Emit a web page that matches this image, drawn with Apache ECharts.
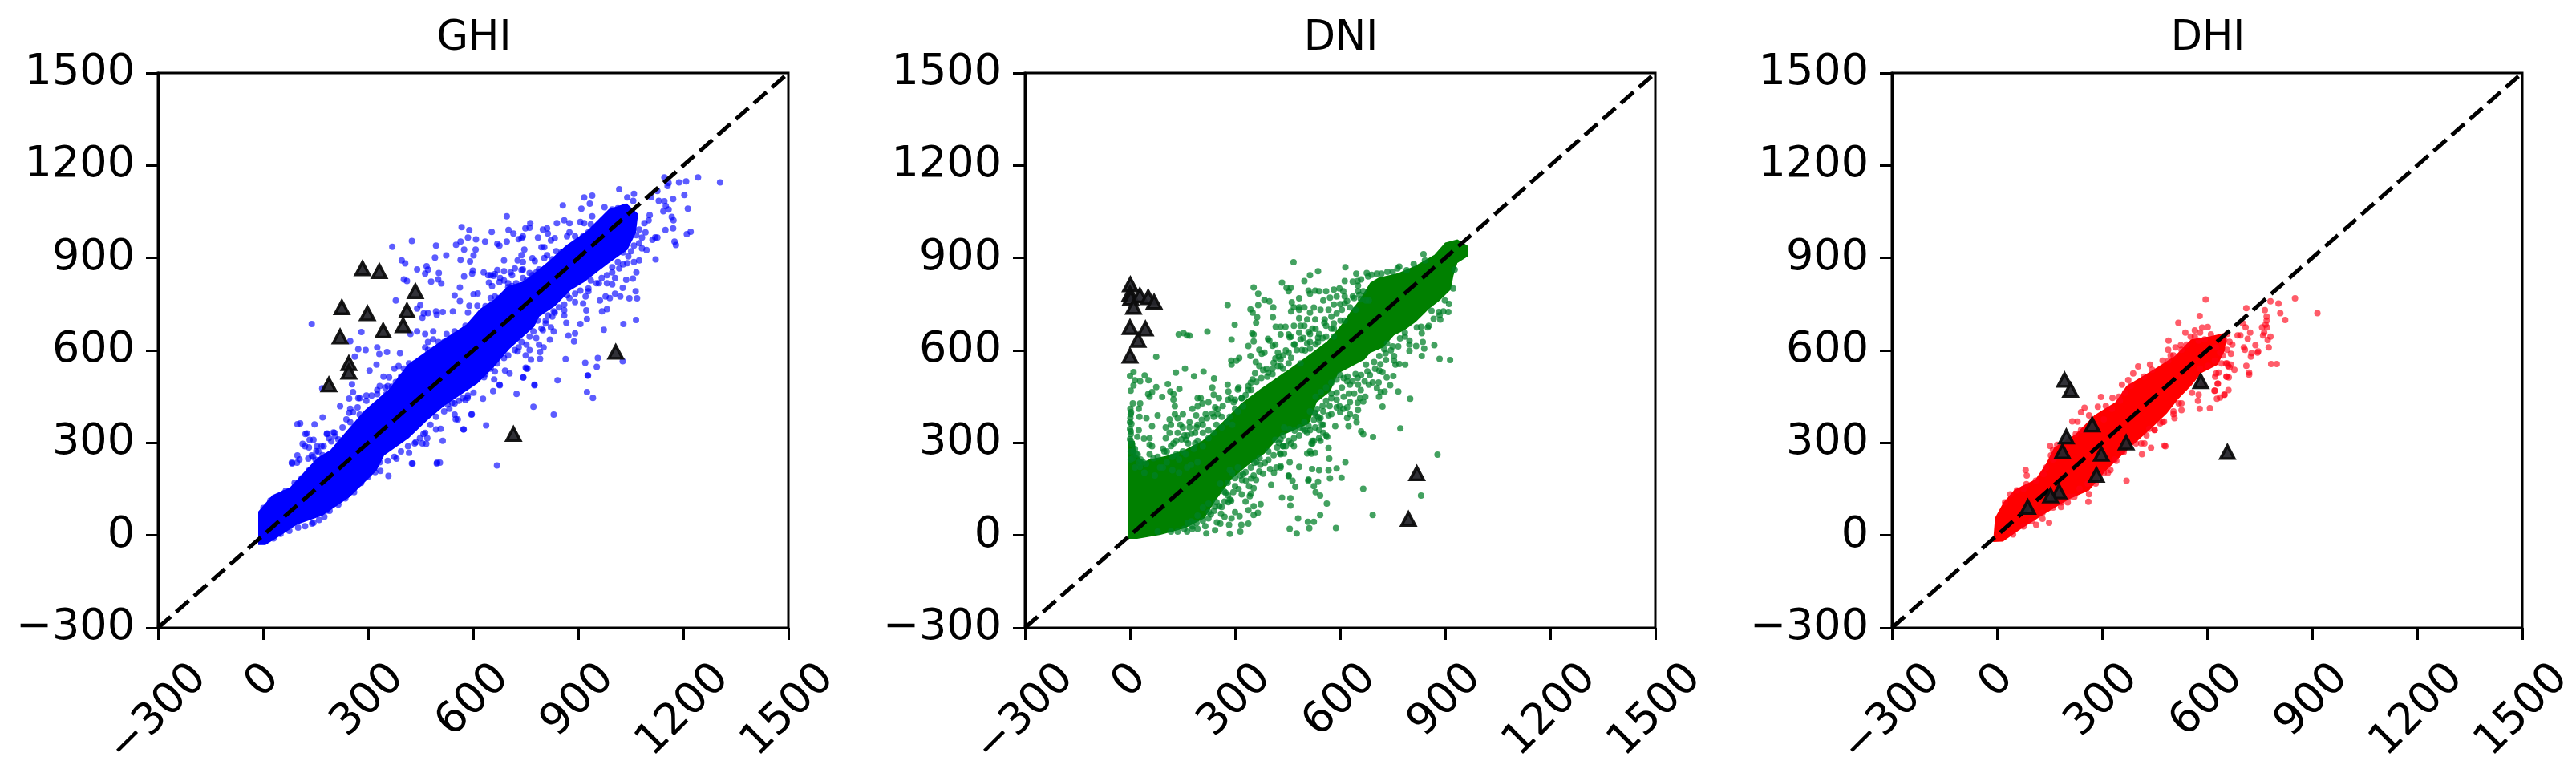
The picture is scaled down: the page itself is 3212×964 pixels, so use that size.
<!DOCTYPE html>
<html>
<head>
<meta charset="utf-8">
<style>html,body{margin:0;padding:0;background:#fff}#c{width:3212px;height:964px}</style>
<script src="https://cdn.jsdelivr.net/npm/echarts@6/dist/echarts.min.js"></script>
</head>
<body>
<div id="c"></div>
<script>
const panelTitles = ['GHI', 'DNI', 'DHI'];
const axisTicks = [-300, 0, 300, 600, 900, 1200, 1500];
const diagonal = [[-300, -300], [1500, 1500]];

const ghiCore = [[-8,-25],[-8,75],[30,125],[80,150],[158,246],[196,272],[242,333],[295,402],[364,470],[417,549],[471,593],[517,630],[585,680],[623,730],[669,765],[700,801],[746,818],[776,844],[822,887],[868,935],[929,983],[990,1052],[1036,1070],[1065,1040],[1059,983],[1036,931],[982,887],[952,861],[914,827],[875,801],[830,749],[784,714],[769,680],[700,610],[654,549],[608,497],[517,428],[463,376],[412,320],[341,263],[320,215],[244,130],[167,70],[95,41],[40,0],[5,-25]];
const ghiPoints = [[139,686],[369,936],[425,955],[494,940],[567,1000],[589,990],[585,966],[608,960],[551,943],[564,953],[574,927],[607,927],[523,908],[491,901],[601,908],[564,893],[591,889],[396,892],[406,882],[440,863],[467,873],[463,849],[471,862],[502,851],[500,830],[509,817],[574,840],[597,849],[599,859],[402,830],[411,825],[480,823],[562,804],[547,778],[601,782],[613,785],[379,762],[562,760],[449,747],[440,736],[589,745],[612,745],[459,720],[455,706],[471,721],[494,727],[496,716],[513,725],[542,727],[585,723],[616,707],[281,660],[249,630],[272,604],[293,601],[326,610],[332,588],[354,595],[391,591],[262,580],[324,554],[304,534],[344,515],[360,512],[254,490],[169,477],[333,484],[356,484],[368,482],[394,484],[257,465],[295,454],[276,445],[246,444],[326,458],[352,458],[220,419],[270,415],[246,398],[257,400],[276,392],[170,383],[249,367],[106,363],[147,360],[125,331],[183,331],[201,334],[133,310],[144,310],[195,305],[215,311],[131,285],[154,289],[98,259],[139,259],[82,236],[97,236],[547,392],[556,376],[595,392],[572,344],[513,307],[494,344],[507,346],[417,268],[436,302],[455,298],[469,315],[505,236],[497,236],[425,233],
[696,1035],[856,1070],[917,1096],[940,1102],[933,1076],[909,1060],[1017,1123],[1059,1108],[1040,1096],[1057,1085],[975,1064],[1146,1161],[1242,1161],[1305,1145],[1188,1145],[1208,1148],[1158,1143],[1155,1133],[1126,1117],[1108,1097],[1203,1104],[1130,1085],[1146,1084],[1171,1091],[1150,1068],[1158,1057],[1143,1051],[1213,1060],[1167,1033],[1172,1022],[1104,1039],[1101,1022],[1089,1013],[1149,991],[1171,996],[1221,985],[1210,977],[1092,983],[1112,959],[1120,967],[1126,966],[1175,953],[1179,942],[1121,895],[1095,926],[1074,892],[1066,853],[1056,833],[1037,829],[1064,792],[1068,769],[1046,769],[1027,803],[1005,835],[978,775],[990,770],[1005,784],[1020,775],[962,762],[914,752],[982,734],[968,727],[923,730],[925,702],[906,686],[866,690],[1065,699],[1029,686],[973,667],[891,655],[872,648],[888,629],[830,662],[819,635],[864,572],[920,560],[956,575],[953,547],[1027,565],[928,519],[841,503],[775,489],[791,573],[765,570],[743,512],[752,541],[704,525],[675,489],[780,640],[788,619],[801,610],[791,595],
[653,984],[634,953],[669,946],[675,940],[696,953],[701,991],[715,979],[763,1013],[749,996],[761,998],[742,970],[730,961],[738,964],[785,966],[799,992],[811,996],[813,979],[822,957],[833,964],[839,1013],[860,1022],[875,1013],[906,1017],[917,1013],[936,1009],[940,1035],[973,1022],[875,983],[868,970],[746,927],[738,909],[795,935],[803,935],[688,892],[727,892],[742,887],[769,899],[776,890],[803,900],[811,909],[630,853],[669,861],[688,857],[719,866],[742,863],[761,851],[788,863],[650,844],[662,848],[645,820],[654,809],[675,822],[707,853],[700,805],[723,818],[650,770],[662,775],[673,770],[635,744],
[982,818],[997,814],[952,818],[936,827],[929,801],[906,794],[891,757],[868,779],[860,731],[860,714],[833,723],[826,710],[822,675],[799,666],[807,688],[752,619],[750,584],[727,597],[761,601],[997,870],[1017,866],[1040,883],[1059,887],[1074,948],[1082,931],[1051,922],[1028,918],
[772,417],[830,392],[724,459],[775,487],[743,512],[637,357],[573,344],[628,443],[657,468],[676,487],[559,437],[578,439],[584,446],[601,463],[540,430],[925,465],[942,446],[927,518],[750,544],[755,541],[691,534],[660,506],[631,513],[668,227],
[1,89],[21,113],[60,137],[83,233],[98,361],[121,329],[113,297],[152,273],[129,249],[182,329],[167,289],[205,321],[144,41],[182,81],[205,105],[244,161],[274,169],[290,193],[335,209],[358,193],[427,233],[496,233],[466,297],[381,249],[458,329],[550,377],[527,425],[596,393],
[643,844],[658,842],[677,835],[688,827],[711,844],[700,818],[711,809],[738,861],[742,835],[753,827],[769,844],[780,853],[799,861],[814,866],[826,896],[837,922],[852,918],[875,935],[894,948],[891,970],[914,970],[929,983],[959,992],[982,1018],[997,1057],[1013,1061],[1032,1065],[1066,974],[1074,992],[1082,966],[1059,940],[1043,905],[1028,879],[1013,887],[997,853],[982,844],[967,835],[959,818],[929,792],[921,775],[891,784],[875,770],[860,749],[845,740],[830,727],[814,714],[807,697],[795,671],[784,697],[772,662],[761,645],[738,627],[730,610],[719,601],[700,584],[688,575],[669,558],[662,532],[650,541],[635,523],
[585,454],[570,445],[547,428],[532,411],[517,402],[494,385],[478,359],[463,333],[448,315],[433,298],[414,289],[394,272],[375,255],[356,242],[333,237],
[471,627],[486,636],[463,610],[433,558],[417,558],[402,541],[387,549],[375,541],[394,515],[379,497],[349,480],[326,471],[310,454],[295,437],[272,445],[249,411],[238,376],[227,350],[204,333],[188,315],[173,289],[158,272],[143,255],[104,246],[120,289],[501,627],[524,653],[547,662],[486,662],[463,653],[440,662],[421,653],[471,601],[517,627],[547,645],[570,653],[593,680],[608,671],[578,680],
[30,-10],[50,5],[75,15],[100,25],[120,30],[140,38],[160,50],[175,60],[190,80],[215,100],[235,120],[260,140],[280,170],[300,190],[320,205],[10,80],[20,100],[40,120],[65,145],[90,170],[110,185],[130,210],[150,245],[170,260]];
const ghiMarks = [[284,866],[332,857],[435,792],[225,740],[298,720],[411,729],[400,681],[343,664],[220,645],[245,558],[245,530],[188,489],[1007,595],[715,329]];

const dniCore = [[0,-5],[0,300],[8,300],[12,260],[40,230],[56,240],[100,250],[155,270],[208,300],[239,330],[323,425],[376,470],[453,530],[514,580],[567,625],[605,675],[636,725],[660,760],[690,815],[712,830],[766,844],[819,870],[873,905],[903,944],[934,953],[960,935],[960,909],[930,888],[918,844],[911,801],[880,766],[850,740],[812,697],[781,671],[750,654],[720,615],[682,597],[666,575],[590,530],[567,471],[529,437],[506,367],[437,333],[422,324],[380,270],[330,230],[285,186],[239,116],[208,60],[155,29],[86,8],[20,-5]];
const dniPoints = [[467,886],[537,857],[514,844],[615,870],[498,825],[646,849],[434,820],[447,803],[459,803],[453,792],[353,804],[366,784],[279,747],[366,747],[384,763],[398,759],[409,740],[344,733],[350,723],[483,769],[462,756],[468,740],[363,708],[360,690],[408,708],[299,683],[416,677],[430,677],[444,677],[221,661],[139,652],[153,656],[163,649],[170,648],[349,655],[353,652],[430,652],[453,652],[456,643],[290,635],[353,629],[338,614],[394,638],[398,632],[407,615],[415,619],[75,579],[344,582],[369,602],[376,589],[384,593],[422,593],[430,571],[415,574],[289,567],[290,554],[312,575],[304,567],[359,562],[369,549],[380,536],[395,528],[407,541],[10,530],[0,517],[42,519],[53,503],[157,541],[131,528],[210,531],[183,516],[240,509],[357,526],[350,506],[14,503],[29,500],[10,486],[2,469],[75,481],[63,465],[52,458],[56,450],[92,449],[108,491],[115,467],[124,458],[141,475],[235,480],[239,456],[279,489],[281,467],[308,473],[338,484],[346,472],[288,445],[296,432],[319,445],[124,441],[128,419],[202,445],[193,445],[207,428],[224,432],[254,445],[243,415],[8,428],[29,428],[25,411],[1,411],[2,393],[0,367],[2,337],[27,385],[47,380],[63,354],[79,389],[25,341],[21,320],[56,315],[40,314],[117,359],[102,315],[128,393],[144,359],[189,389],[170,367],[193,359],[208,359],[250,393],[224,341],[247,359],[285,385],[63,289],[56,294],[2,307],[10,272],[124,298],[98,272],[79,255],[67,250],[25,237],[41,203],[163,324],[186,298],[151,272],[132,263],[86,220],[163,220],[71,194],
[456,237],[483,222],[518,265],[506,266],[529,268],[567,283],[569,249],[615,237],[590,217],[567,211],[540,211],[520,215],[430,263],[430,220],[411,203],[453,194],[510,181],[571,185],[604,187],[651,407],[657,445],[660,337],[586,354],[624,354],[647,367],[628,432],[609,411],[590,415],[567,389],[537,385],[548,359],[563,320],[514,341],[525,307],[552,333],[518,298],[445,289],[437,324],[468,289],[628,489],[651,489],[621,515],[644,523],[659,471],[605,480],[575,445],[560,437],[590,463],
[510,794],[529,794],[540,792],[560,792],[582,797],[609,792],[552,762],[571,771],[590,775],[613,753],[498,740],[525,739],[567,732],[460,727],[483,705],[506,701],[529,701],[556,701],[468,680],[487,680],[514,653],[540,653],[537,641],[575,671],[601,697],[483,658],[487,636],[506,623],[476,601],[453,593],[437,584],[514,606],[460,576],[487,558],[453,558],[430,549],[582,671],[613,825],[636,823],[651,810],[644,732],
[838,912],[842,892],[764,866],[769,872],[676,851],[705,849],[718,849],[923,801],[927,862],[666,792],[674,762],[682,762],[899,762],[911,751],[861,729],[882,725],[895,727],[909,725],[867,703],[886,700],[884,714],[819,675],[831,677],[850,675],[853,680],[833,656],[785,658],[785,645],[771,639],[836,627],[817,614],[840,606],[869,617],[798,632],[798,619],[798,598],[833,582],[884,573],[914,569],[766,613],[750,613],[726,604],[734,623],[712,582],[731,569],[754,582],[754,567],[758,554],[769,556],[786,554],[697,562],[674,554],[678,532],[712,534],[721,530],[752,517],[733,512],[693,496],[682,489],[710,496],[743,487],[705,478],[766,467],[727,467],[716,465],[711,450],[672,450],[666,434],[800,443],[721,418],[772,347],[694,319],[666,328],[878,262],
[831,129],[666,151],[693,66],[588,24],[543,66],[562,103],[480,55],[508,44],[525,44],[512,23],[456,21],[476,6],[458,121],[458,97],[434,123],[403,164],[509,178],[537,174],[525,160],[530,140],[543,129],[453,192],[464,177],[472,158],[418,220],[430,225],[428,266],[285,5],[218,6],[315,12],[318,34],[338,38],[313,62],[283,34],[243,17],[258,38],[248,42],[373,101],[353,95],[365,73],[353,66],[338,82],[319,133],[342,127],[281,108],[289,112],[262,92],[243,94],[231,68],[353,153],[300,160],[279,171],[258,168],[273,138],[369,207],[372,229],[346,185],[315,194],[292,203],[437,290],[460,298],[430,311],[395,272],[521,307],[544,307],[560,324],[540,342],[529,398],[540,376],[552,359],[544,381],[620,381],
[163,12],[178,21],[193,21],[136,12],[117,12],[79,12],[0,312],[2,328],[0,345],[4,362],[1,381],[3,400],[6,296],[14,280],[22,262],[30,246],[46,232],[8,250],[28,222],[94,281],[105,272],[117,290],[155,324],[132,307],[361,238],[285,212],[323,199],[300,186],[331,177],[353,194],[308,220],[269,142],[285,116],[247,108],[224,103],[208,90],[193,64],[178,29],[208,47],[224,55],[155,21],
[102,350],[113,333],[136,333],[151,350],[170,350],[186,333],[208,333],[224,315],[239,333],[262,350],[277,367],[292,359],[308,402],[323,419],[262,385],[239,385],[216,393],[193,419],[178,411],[151,393],[136,380],[113,376],[147,311],[166,298],[193,307],[208,289],[182,281],[159,263],[140,246],[121,255],[105,237],[94,220],[121,211],[140,203],[174,229],[193,237],[56,263],[37,237],[18,263],[14,220],[2,246],[2,272],
[514,402],[529,393],[552,402],[575,393],[598,419],[628,393],[644,385],[529,350],[540,315],[506,333],[483,324],[468,315],[453,307],[437,289],[521,298],[514,272],[498,367],
[483,732],[514,723],[544,732],[582,749],[605,732],[560,680],[582,688],[613,697],[628,740],[498,680],[521,671],[460,645],[468,619],[491,601],[514,627],[537,627],[560,645],[582,645],[422,549],[407,523],[437,541],[392,515],[361,498],[338,471],[319,445],[300,411],[598,801],[613,775],[636,775],[651,792],[659,766],[514,784],[483,740],
[415,310],[425,300],[440,350],[455,345],[470,340],[485,350],[500,340],[420,285],[440,265],[410,260],[395,245],[385,235],[370,250],[355,235],[345,220],[330,205],[320,180],[310,150],[295,140],[280,130],[270,110],[255,95],[240,80],[225,75],[215,30],[190,40],[175,45],[165,40],[340,160],[360,180],[380,200],[400,215],[330,110],[345,135],[300,75],[290,55],[270,60],[260,70],
[310,480],[300,440],[280,440],[265,420],[250,410],[235,395],[220,380],[205,375],[190,350],[175,330],[160,310],[330,455],[345,495],[375,510],[390,540],[410,560],[425,580],[445,600],[470,620],[495,640],[510,660],[530,670],[555,690],[575,710],[590,720],[600,750],[620,760],[640,770],[655,780],[530,620],[550,640],[500,600],
[600,520],[610,510],[620,500],[635,500],[650,510],[660,520],[670,500],[685,520],[700,540],[715,555],[730,590],[745,600],[590,505],[575,495],[560,480],[545,465],[530,450],[575,460],[590,440],[610,450],[625,460],[640,460],[650,430],[600,400],[620,415],[570,420],[550,420],[535,410],[525,375],[510,355],[495,345],
[660,830],[650,825],[680,840],[690,845],[735,855],[750,855],[790,860],[810,880]];
const dniMarks = [[1,814],[0,784],[2,770],[28,778],[52,772],[69,757],[10,741],[0,675],[44,671],[23,634],[0,582],[819,201],[795,53]];

const dhiCore = [[-5,-15],[0,55],[23,103],[53,142],[114,177],[145,229],[168,281],[229,324],[282,385],[343,428],[374,480],[450,532],[511,576],[557,630],[611,640],[650,650],[645,601],[626,558],[580,532],[550,489],[512,445],[481,400],[435,350],[359,272],[305,212],[259,151],[206,125],[130,73],[69,29],[15,-14]];
const dhiPoints = [[596,765],[579,712],[518,690],[712,737],[781,759],[804,752],[851,769],[915,721],[765,731],[809,721],[823,699],[770,710],[770,697],[767,684],[771,675],[757,675],[763,658],[760,649],[781,645],[773,634],[776,610],[783,556],[799,556],[712,550],[720,528],[720,521],[702,688],[710,675],[723,658],[695,649],[687,649],[716,638],[738,617],[705,610],[708,602],[746,597],[727,591],[725,580],[744,593],[678,537],[668,554],[657,558],[664,545],[655,515],[662,512],[631,492],[626,525],[623,515],[661,471],[621,469],[650,456],[628,443],[637,447],[579,411],[608,413],[574,437],[576,456],[527,406],[519,428],[504,393],[507,380],[481,289],[586,674],[602,676],[565,665],[538,658],[553,645],[611,652],[593,636],[576,632],[490,632],[510,610],[525,617],[489,602],[658,654],[664,628],[672,619],[657,602],[668,589],[645,584],[641,558],[660,550],
[403,548],[437,554],[389,525],[375,504],[357,489],[297,449],[330,446],[348,450],[250,414],[240,400],[288,417],[311,420],[263,389],[215,370],[230,369],[152,290],[160,277],[154,259],[164,251],[82,212],[85,194],[84,166],[478,291],[440,284],[414,263],[412,298],[421,298],[370,177],[324,212],[317,203],[341,242],[362,270],[261,109],[263,134],[221,125],[202,107],[183,92],[149,41],[130,54],[112,34],[466,363],[477,369],[450,342],[435,346],[649,456],[622,469],[656,515],[633,528],[630,492],[654,558],
[23,107],[38,133],[57,146],[76,151],[111,177],[133,199],[141,220],[160,246],[172,294],[206,307],[225,329],[240,342],[259,342],[305,376],[328,411],[351,437],[366,463],[382,485],[420,515],[443,537],[473,567],[496,584],[46,3],[76,29],[99,47],[130,73],[160,90],[183,107],[206,125],[236,151],[259,168],[282,168],[305,203],[336,246],[359,272],[397,298],[427,324],[450,342],[473,368],[504,402],[527,428],[557,463],[588,489],[626,610],[637,593],[649,636],[622,567],[603,550],[580,541],[565,645],[580,658],[527,602],[504,584],[489,567],[542,619]];
const dhiMarks = [[193,504],[210,472],[272,359],[198,320],[187,272],[369,301],[298,264],[284,196],[177,142],[153,129],[88,92],[582,500],[658,270]];

const panels = [
  { core: ghiCore, points: ghiPoints, marks: ghiMarks, solid: '#0000ff', dot: 'rgba(0,0,255,0.8)' },
  { core: dniCore, points: dniPoints, marks: dniMarks, solid: '#008000', dot: 'rgba(0,128,40,0.92)' },
  { core: dhiCore, points: dhiPoints, marks: dhiMarks, solid: '#ff0000', dot: 'rgba(255,0,20,0.8)' }
];
const gridLeft = [197, 1278, 2359];
const gridWidth = 786, gridTop = 91, gridHeight = 692;
const FONT = '"DejaVu Sans"';
const TICK_SIZE = 54;
const fmt = v => String(v).replace('-', '\u2212');

const chart = echarts.init(document.getElementById('c'), null, { renderer: 'canvas' });
const option = {
  animation: false, backgroundColor: '#fff',
  title: [], grid: [], xAxis: [], yAxis: [], series: []
};
panels.forEach((p, i) => {
  option.title.push({
    text: panelTitles[i], left: gridLeft[i] + gridWidth / 2 - 4, top: 18, textAlign: 'center',
    textStyle: { fontFamily: FONT, fontSize: 51, fontWeight: 'normal', color: '#000' }
  });
  option.grid.push({
    left: gridLeft[i], top: gridTop, width: gridWidth, height: gridHeight,
    show: true, borderColor: '#000', borderWidth: 3, backgroundColor: 'transparent', containLabel: false
  });
  const axisBase = {
    gridIndex: i, type: 'value', min: -300, max: 1500, interval: 300,
    splitLine: { show: false },
    axisLine: { show: true, onZero: false, lineStyle: { color: '#000', width: 3 } },
    axisTick: { show: true, length: 15, lineStyle: { color: '#000', width: 3 } }
  };
  option.xAxis.push(Object.assign({}, axisBase, { axisLabel: { show: false } }));
  option.yAxis.push(Object.assign({}, axisBase, {
    axisLabel: { show: true, margin: 29, padding: [16, 0, 0, 0], fontFamily: FONT, fontSize: TICK_SIZE, color: '#000', formatter: fmt, showMinLabel: true, showMaxLabel: true }
  }));
  option.series.push({
    type: 'custom', xAxisIndex: i, yAxisIndex: i, z: 1, silent: true, data: [0], coordinateSystem: 'cartesian2d',
    renderItem: (params, api) => ({
      type: 'polygon',
      shape: { points: p.core.map(c => api.coord(c)) },
      style: { fill: p.solid, stroke: p.solid, lineWidth: 5 }
    })
  });
  option.series.push({
    type: 'scatter', xAxisIndex: i, yAxisIndex: i, z: 2, silent: true, data: p.points, symbol: 'circle', symbolSize: 8,
    itemStyle: { color: p.dot, borderWidth: 0 }, large: false
  });
  option.series.push({
    type: 'line', xAxisIndex: i, yAxisIndex: i, z: 3, silent: true, data: diagonal, showSymbol: false, symbol: 'none',
    lineStyle: { color: '#000', width: 5, type: [21, 9] }
  });
  option.series.push({
    type: 'scatter', xAxisIndex: i, yAxisIndex: i, z: 4, silent: true, data: p.marks, symbol: 'triangle', symbolSize: [17, 16],
    itemStyle: { color: '#26262c', borderColor: '#0c0c0c', borderWidth: 3.5, opacity: 0.95 }
  });
  option.series.push({
    type: 'custom', xAxisIndex: i, yAxisIndex: i, z: 5, silent: true, clip: false,
    data: axisTicks.map(t => [t, -300]),
    renderItem: (params, api) => {
      const t = api.value(0);
      const pt = api.coord([t, -300]);
      const s = fmt(t);
      const digits = String(Math.abs(t)).length;
      const w = (digits * 0.636 + (t < 0 ? 0.838 : 0)) * TICK_SIZE;
      return {
        type: 'text', x: pt[0], y: pt[1] + 29 + 0.354 * (w + 72), rotation: Math.PI / 4,
        style: { text: s, font: TICK_SIZE + 'px ' + FONT, fill: '#000', textAlign: 'center', textVerticalAlign: 'middle' }
      };
    }
  });
});
chart.setOption(option);
</script>
</body>
</html>
